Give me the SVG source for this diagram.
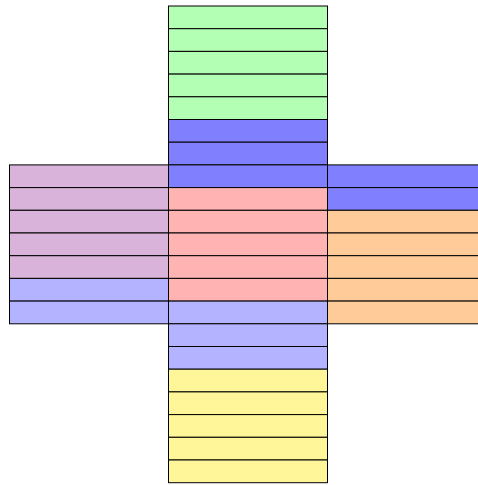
<svg xmlns="http://www.w3.org/2000/svg" width="478" height="485" viewBox="0 0 478 485">
<style>
.g,.b,.p,.l,.y,.m,.o{stroke:#000;stroke-width:1}
.g{fill:#B3FFB3}.b{fill:#8080FF}.p{fill:#FFB3B3}.l{fill:#B3B3FF}.y{fill:#FFF599}.m{fill:#D9B3D9}.o{fill:#FFCC99}
</style>
<rect width="478" height="485" fill="#fff"/>
<g id="center">
<rect class="g" x="168.5" y="6" width="159" height="22.7"/>
<rect class="g" x="168.5" y="28.7" width="159" height="22.7"/>
<rect class="g" x="168.5" y="51.4" width="159" height="22.7"/>
<rect class="g" x="168.5" y="74.1" width="159" height="22.7"/>
<rect class="g" x="168.5" y="96.8" width="159" height="22.7"/>
<rect class="b" x="168.5" y="119.5" width="159" height="22.7"/>
<rect class="b" x="168.5" y="142.2" width="159" height="22.7"/>
<rect class="b" x="168.5" y="164.9" width="159" height="22.7"/>
<rect class="p" x="168.5" y="187.6" width="159" height="22.7"/>
<rect class="p" x="168.5" y="210.3" width="159" height="22.7"/>
<rect class="p" x="168.5" y="233" width="159" height="22.7"/>
<rect class="p" x="168.5" y="255.7" width="159" height="22.7"/>
<rect class="p" x="168.5" y="278.4" width="159" height="22.7"/>
<rect class="l" x="168.5" y="301.1" width="159" height="22.7"/>
<rect class="l" x="168.5" y="323.8" width="159" height="22.7"/>
<rect class="l" x="168.5" y="346.5" width="159" height="22.7"/>
<rect class="y" x="168.5" y="369.2" width="159" height="22.7"/>
<rect class="y" x="168.5" y="391.9" width="159" height="22.7"/>
<rect class="y" x="168.5" y="414.6" width="159" height="22.7"/>
<rect class="y" x="168.5" y="437.3" width="159" height="22.7"/>
<rect class="y" x="168.5" y="460" width="159" height="22.7"/>
</g>
<g id="left">
<rect class="m" x="9.5" y="164.9" width="159" height="22.7"/>
<rect class="m" x="9.5" y="187.6" width="159" height="22.7"/>
<rect class="m" x="9.5" y="210.3" width="159" height="22.7"/>
<rect class="m" x="9.5" y="233" width="159" height="22.7"/>
<rect class="m" x="9.5" y="255.7" width="159" height="22.7"/>
<rect class="l" x="9.5" y="278.4" width="159" height="22.7"/>
<rect class="l" x="9.5" y="301.1" width="159" height="22.7"/>
</g>
<g id="right">
<rect class="b" x="327.5" y="164.9" width="159" height="22.7"/>
<rect class="b" x="327.5" y="187.6" width="159" height="22.7"/>
<rect class="o" x="327.5" y="210.3" width="159" height="22.7"/>
<rect class="o" x="327.5" y="233" width="159" height="22.7"/>
<rect class="o" x="327.5" y="255.7" width="159" height="22.7"/>
<rect class="o" x="327.5" y="278.4" width="159" height="22.7"/>
<rect class="o" x="327.5" y="301.1" width="159" height="22.7"/>
</g>
<g id="connectors"/>
</svg>
